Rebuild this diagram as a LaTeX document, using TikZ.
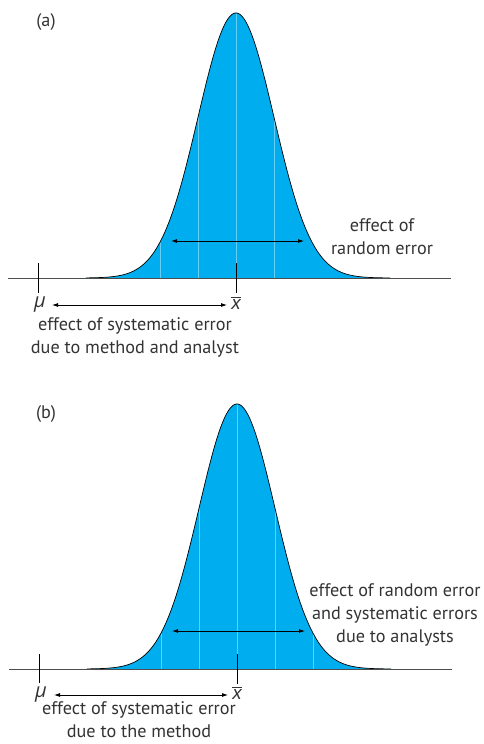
\documentclass[tikz,border=0pt]{standalone}
\usepackage{fontspec}
\setmainfont{PT Sans}
\newfontfamily\grk{Open Sans}
\usetikzlibrary{arrows.meta}
\definecolor{bellblue}{HTML}{00AEEF}
\definecolor{axisgray}{HTML}{4D4D4D}
\definecolor{txtgray}{HTML}{333333}
\tikzset{
  lbl/.style={font=\fontsize{18.2}{23}\selectfont, text=txtgray, inner sep=0pt, align=center},
  axisline/.style={draw=axisgray, line width=0.9pt},
  tickline/.style={draw=black, line width=0.8pt},
  dblarrow/.style={draw=black, line width=0.8pt, {Latex[length=6pt,width=4pt]}-{Latex[length=6pt,width=4pt]}},
  sigline/.style={draw=white, draw opacity=0.4, line width=0.5pt},
  mulbl/.style={font=\fontsize{20}{23}\selectfont\grk\itshape, text=txtgray, inner sep=0pt},
}
\begin{document}
\begin{tikzpicture}[x=1pt,y=-1pt]
\useasboundingbox (0,0) rectangle (483,744);
% ---------- panel (a) ----------
\node[lbl] (alab) at (46,22) {(a)};
\fill[bellblue] plot[domain=86:390, samples=160, smooth] (\x, {278 - 265*exp(-((\x-236)/38)^2/2)}) -- cycle;
\foreach \k in {-2,-1,0,1} {
  \draw[sigline] ({236+38*\k},278) -- ({236+38*\k},{278 - 265*exp(-(\k)^2/2)+1});
}
\draw[draw=black, line width=0.7pt] plot[domain=86:390, samples=160, smooth] (\x, {278 - 265*exp(-((\x-236)/38)^2/2)});
\coordinate (aL) at (8,278);
\coordinate (aR) at (451,278);
\draw[axisline] (aL) -- (aR);
\coordinate (amuT) at (38,263); \coordinate (amuB) at (38,293);
\coordinate (axT) at (236,263); \coordinate (axB) at (236,293);
\draw[tickline] (amuT) -- (amuB);
\draw[tickline] (axT) -- (axB);
\coordinate (arL) at (171,241); \coordinate (arR) at (304,241);
\draw[dblarrow] (arL) -- (arR);
\node[lbl] (arand) at (382,237) {effect of\\random error};
\node[mulbl] (amu) at (40,305) {μ};
\node[lbl, font=\fontsize{20}{23}\selectfont] (axbar) at (236,303) {$\overline{\mbox{\itshape x}}$};
\coordinate (asL) at (52,305); \coordinate (asR) at (227,305);
\draw[dblarrow] (asL) -- (asR);
\node[lbl] (asys) at (135,337) {effect of systematic error\\due to method and analyst};
% ---------- panel (b) ----------
\node[lbl] (blab) at (46,414) {(b)};
\fill[bellblue] plot[domain=87:391, samples=160, smooth] (\x, {669 - 265*exp(-((\x-237)/38)^2/2)}) -- cycle;
\foreach \k in {-2,-1,0,1,2} {
  \draw[sigline] ({237+38*\k},669) -- ({237+38*\k},{669 - 265*exp(-(\k)^2/2)+1});
}
\draw[draw=black, line width=0.7pt] plot[domain=87:391, samples=160, smooth] (\x, {669 - 265*exp(-((\x-237)/38)^2/2)});
\coordinate (bL) at (9,669);
\coordinate (bR) at (452,669);
\draw[axisline] (bL) -- (bR);
\coordinate (bmuT) at (39,654); \coordinate (bmuB) at (39,683);
\coordinate (bxT) at (237,654); \coordinate (bxB) at (237,684);
\draw[tickline] (bmuT) -- (bmuB);
\draw[tickline] (bxT) -- (bxB);
\coordinate (brL) at (172,631); \coordinate (brR) at (305,631);
\draw[dblarrow] (brL) -- (brR);
\node[lbl] (brand) at (395,615) {effect of random error\\and systematic errors\\due to analysts};
\node[mulbl] (bmu) at (41,695) {μ};
\node[lbl, font=\fontsize{20}{23}\selectfont] (bxbar) at (237,693) {$\overline{\mbox{\itshape x}}$};
\coordinate (bsL) at (54,695); \coordinate (bsR) at (228,695);
\draw[dblarrow] (bsL) -- (bsR);
\node[lbl] (bsys) at (139,720) {effect of systematic error\\due to the method};
\end{tikzpicture}
\end{document}
